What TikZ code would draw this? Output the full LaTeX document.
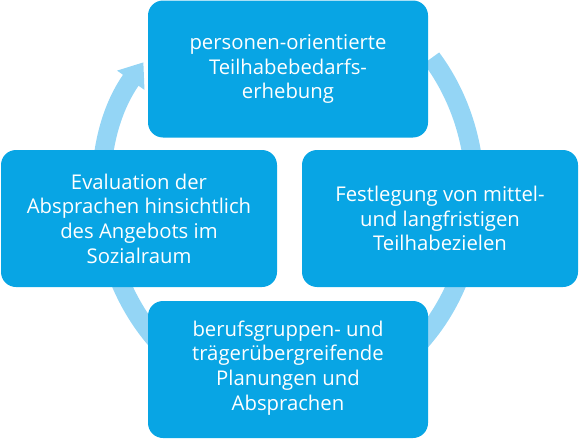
\documentclass[tikz,border=0pt]{standalone}
\usepackage{fontspec}
\setmainfont{Open Sans}
\usetikzlibrary{arrows.meta}
\definecolor{boxblue}{RGB}{8,165,228}
\definecolor{ringblue}{RGB}{148,213,245}

\begin{document}
\begin{tikzpicture}[x=1pt, y=-1pt,
	stepbox/.style={draw=none, fill=boxblue, rounded corners=15pt, text=white, align=center,
		minimum width=280pt, minimum height=137pt, inner sep=0pt,
		font=\fontsize{20.3}{24.7}\selectfont}]

	\useasboundingbox (0,0) rectangle (579,439);

	%cycle ring
	\draw[ringblue, line width=19pt, -{Triangle[length=22pt, width=32pt]}]
		({289+186*cos(-40)},{193+210*sin(-40)}) arc[start angle=-40, end angle=218.5, x radius=186, y radius=210];

	%steps
	\node[stepbox] (erhebung) at (288,69) {personen-orientierte\\Teilhabebedarfs-\\erhebung};
	\node[stepbox, minimum width=276pt] (ziele) at (440,218.5) {Festlegung von mittel-\\und langfristigen\\Teilhabezielen};
	\node[stepbox, text depth=8pt] (planung) at (288,369.5) {berufsgruppen- und\\trägerübergreifende\\Planungen und\\Absprachen};
	\node[stepbox, minimum width=276pt] (evaluation) at (139,218.5) {Evaluation der\\Absprachen hinsichtlich\\des Angebots im\\Sozialraum};

\end{tikzpicture}
\end{document}
